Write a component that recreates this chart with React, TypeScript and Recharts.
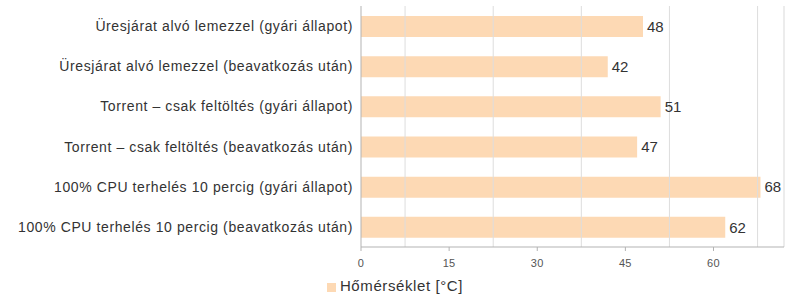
import {
  Bar,
  BarChart,
  LabelList,
  Legend,
  ReferenceLine,
  XAxis,
  YAxis,
} from "recharts";

const kategoriak = [
  "Üresjárat alvó lemezzel (gyári állapot)",
  "Üresjárat alvó lemezzel (beavatkozás után)",
  "Torrent – csak feltöltés (gyári állapot)",
  "Torrent – csak feltöltés (beavatkozás után)",
  "100% CPU terhelés 10 percig (gyári állapot)",
  "100% CPU terhelés 10 percig (beavatkozás után)",
];
const homersekletek = [48, 42, 51, 47, 68, 62];
const xTicks = [0, 15, 30, 45, 60];
const racsVonalak = [7.5, 22.5, 37.5, 52.5, 67.5];
const xMax = 72;

const dados = kategoriak.map((nev, i) => ({ nev, ertek: homersekletek[i] }));

const FONT = "'Liberation Sans', Arial, sans-serif";

export default function App() {
  return (
    <div style={{ position: "absolute", left: 0, top: 0, fontFamily: FONT }}>
      <BarChart
        width={800}
        height={306}
        data={dados}
        layout="vertical"
        margin={{ top: 6, right: 16, bottom: 12, left: 0 }}
      >
        <XAxis
          type="number"
          domain={[0, xMax]}
          ticks={xTicks}
          interval={0}
          stroke="#b3b3b3"
          tickSize={4}
          tickMargin={8}
          height={30}
          tick={{ fill: "#555", fontSize: 11, fontFamily: FONT, letterSpacing: 0.3 }}
        />
        <XAxis
          xAxisId="top"
          orientation="top"
          type="number"
          domain={[0, xMax]}
          height={0}
          tick={false}
          tickLine={false}
          stroke="#d9d9d9"
        />
        <YAxis
          type="category"
          dataKey="nev"
          width={361}
          stroke="#b3b3b3"
          tickSize={0}
          tickMargin={8}
          tick={{ fill: "#333", fontSize: 14, fontFamily: FONT, letterSpacing: 0.6 }}
        />
        {racsVonalak.map((v) => (
          <ReferenceLine key={v} x={v} stroke="#dddddd" />
        ))}
        <ReferenceLine x={xMax} stroke="#d9d9d9" />
        <Legend
          verticalAlign="bottom"
          iconType="square"
          iconSize={9}
          wrapperStyle={{ fontSize: 15, fontFamily: FONT, letterSpacing: 0.6, left: 0, width: 800 }}
          formatter={(v) => <span style={{ color: "#333" }}>{v}</span>}
        />
        <Bar
          dataKey="ertek"
          name="Hőmérséklet [°C]"
          fill="#fdd9b4"
          barSize={21}
          isAnimationActive={false}
        >
          <LabelList
            dataKey="ertek"
            position="right"
            offset={4}
            fill="#333"
            fontSize={15}
            fontFamily={FONT}
          />
        </Bar>
      </BarChart>
    </div>
  );
}
